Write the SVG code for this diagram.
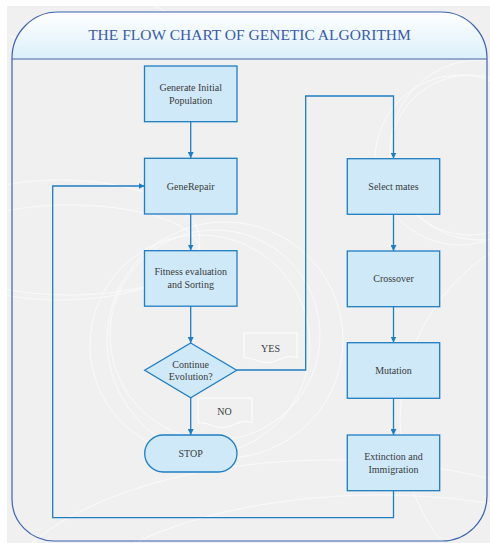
<svg xmlns="http://www.w3.org/2000/svg" width="490" height="543" viewBox="0 0 490 543">
<style>
.box{fill:#cfe9f9;stroke:#1f7dc2;stroke-width:1.3}
.t{font-family:"Liberation Serif","Times New Roman",serif;font-size:10px;fill:#3a3a3a;text-anchor:middle}
.c{fill:none;stroke:#1f7dc2;stroke-width:1.3}
.deco{fill:none;stroke:#ffffff;stroke-width:0.8;opacity:0.8}
.lbl{fill:none;stroke:#ffffff;stroke-width:0.9}
</style>
<defs>
<linearGradient id="hg" x1="0" y1="0" x2="0" y2="1">
<stop offset="0" stop-color="#ffffff"/>
<stop offset="1" stop-color="#dcf0fb"/>
</linearGradient>
<marker id="ah" viewBox="0 0 10 10" refX="10" refY="5" markerWidth="6" markerHeight="6" markerUnits="userSpaceOnUse" orient="auto">
<path d="M0,0 L10,5 L0,10 z" fill="#1f7dc2"/>
</marker>
<clipPath id="bg"><rect x="7" y="6" width="483" height="537"/></clipPath>
</defs>
<rect x="0" y="0" width="490" height="543" fill="#ffffff"/>
<rect x="7" y="6" width="483" height="537" fill="#eff0ef"/>
<g clip-path="url(#bg)">
<circle class="deco" cx="460" cy="160" r="85"/>
<circle class="deco" cx="470" cy="155" r="80"/>
<circle class="deco" cx="480" cy="150" r="90"/>
<circle class="deco" cx="200" cy="345" r="110"/>
<circle class="deco" cx="215" cy="335" r="105"/>
<circle class="deco" cx="225" cy="340" r="118"/>
<ellipse class="deco" cx="70" cy="250" rx="130" ry="45"/>
<ellipse class="deco" cx="60" cy="240" rx="140" ry="60"/>
<ellipse class="deco" cx="330" cy="620" rx="340" ry="160"/>
<ellipse class="deco" cx="380" cy="640" rx="330" ry="145"/>
<circle class="deco" cx="600" cy="420" r="200"/>
<ellipse class="deco" cx="80" cy="20" rx="90" ry="25"/>
</g>
<g id="frame">
<path d="M12,58 A46,46 0 0 1 58,12 L441,12 A46,46 0 0 1 487,58 Z" fill="url(#hg)"/>
<path d="M12,58 A46,46 0 0 1 58,12 L441,12 A46,46 0 0 1 487,58 L487,496 A45,45 0 0 1 442,541 L54,541 A42,42 0 0 1 12,499 Z" fill="none" stroke="#3c62b0" stroke-width="1.2"/>
<line x1="12" y1="59" x2="487" y2="59" stroke="#3c62b0" stroke-width="1.2"/>
<text x="249.5" y="39.5" font-family="'Liberation Serif','Times New Roman',serif" font-size="15.5" fill="#3c5aa8" text-anchor="middle">THE FLOW CHART OF GENETIC ALGORITHM</text>
</g>
<g id="connectors">
<line class="c" x1="190.7" y1="122" x2="190.7" y2="158" marker-end="url(#ah)"/>
<line class="c" x1="190.7" y1="214" x2="190.7" y2="250.5" marker-end="url(#ah)"/>
<line class="c" x1="190.7" y1="306" x2="190.7" y2="343" marker-end="url(#ah)"/>
<line class="c" x1="190.7" y1="398" x2="190.7" y2="435" marker-end="url(#ah)"/>
<polyline class="c" points="237,370 305.7,370 305.7,96 393.5,96 393.5,158.5" marker-end="url(#ah)"/>
<line class="c" x1="393.5" y1="214.5" x2="393.5" y2="251" marker-end="url(#ah)"/>
<line class="c" x1="393.5" y1="306.5" x2="393.5" y2="342.5" marker-end="url(#ah)"/>
<line class="c" x1="393.5" y1="398.5" x2="393.5" y2="435" marker-end="url(#ah)"/>
<polyline class="c" points="393.5,491 393.5,517.7 52.7,517.7 52.7,186 144.5,186" marker-end="url(#ah)"/>
</g>
<g id="yes-label">
<path class="lbl" d="M244,333 L297,333 L297,358 C285,352 275,366 262,362 C254,360 250,357 244,358 Z"/>
<text class="t" x="270.5" y="351.5">YES</text>
</g>
<g id="no-label">
<path class="lbl" d="M198,398 L252,398 L252,423 C240,417 230,431 217,427 C209,425 205,422 198,423 Z"/>
<text class="t" x="224.5" y="415">NO</text>
</g>
<g id="generate">
<rect class="box" x="144.5" y="66" width="92.5" height="55.7"/>
<text class="t" x="190.7" y="90.5">Generate Initial</text>
<text class="t" x="190.7" y="103.5">Population</text>
</g>
<g id="generepair">
<rect class="box" x="144.5" y="158.3" width="92.5" height="55.7"/>
<text class="t" x="190.7" y="190">GeneRepair</text>
</g>
<g id="fitness">
<rect class="box" x="144.5" y="250.7" width="92.5" height="55.5"/>
<text class="t" x="190.7" y="275">Fitness evaluation</text>
<text class="t" x="190.7" y="288">and Sorting</text>
</g>
<g id="continue">
<polygon class="box" points="190.7,343 236.7,370.3 190.7,397.7 144.7,370.3"/>
<text class="t" x="190.7" y="368">Continue</text>
<text class="t" x="190.7" y="380">Evolution?</text>
</g>
<g id="stop">
<rect class="box" x="144.7" y="435" width="92.3" height="37" rx="18.5" ry="18.5"/>
<text class="t" x="190.7" y="457">STOP</text>
</g>
<g id="select">
<rect class="box" x="347.3" y="158.7" width="92.4" height="55.6"/>
<text class="t" x="393.5" y="190">Select mates</text>
</g>
<g id="crossover">
<rect class="box" x="347.3" y="251" width="92.4" height="55.7"/>
<text class="t" x="393.5" y="282">Crossover</text>
</g>
<g id="mutation">
<rect class="box" x="347.3" y="342.7" width="92.4" height="55.6"/>
<text class="t" x="393.5" y="374">Mutation</text>
</g>
<g id="extinction">
<rect class="box" x="347.3" y="435" width="92.4" height="55.7"/>
<text class="t" x="393.5" y="460">Extinction and</text>
<text class="t" x="393.5" y="472.5">Immigration</text>
</g>
</svg>
